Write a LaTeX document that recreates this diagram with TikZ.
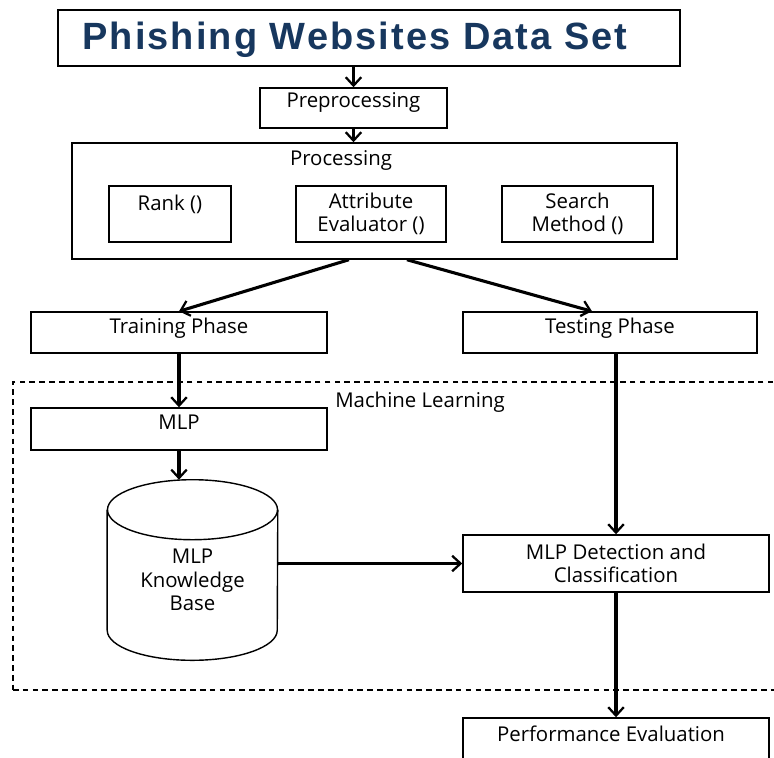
\documentclass[tikz,border=0pt]{standalone}
\usepackage{fontspec}
\setmainfont{Open Sans}
\newfontfamily\titlefont[LetterSpace=5.5]{Liberation Sans}
\usepackage{tikz}
\usetikzlibrary{shapes.geometric, arrows.meta, positioning}
\usepackage{xcolor}
\definecolor{titleblue}{HTML}{17375E}

\tikzset{
    box/.style={draw, rectangle, line width=1pt, inner sep=2pt, align=center},
    flow/.style={->, line width=2.2pt},
}

\begin{document}
\begin{tikzpicture}[x=0.025cm, y=-0.025cm, >={Straight Barb[length=6pt, width=11pt, line width=1.6pt]}, font=\fontsize{14.5}{16.5}\selectfont]
    \useasboundingbox (0,0) rectangle (774,757);
    % 数据集
    \node[box, minimum width=15.55cm, minimum height=1.4cm] (title) at (369,38) {};
    \node[text=titleblue, font=\titlefont\bfseries\fontsize{27}{30}\selectfont] (titletext) at (355,40) {Phishing Websites Data Set};
    \node[box, minimum width=4.675cm, minimum height=1cm, text depth=12pt] (pre) at (353.5,108) {Preprocessing};

    % 处理
    \node[box, minimum width=15.125cm, minimum height=2.9cm] (proc) at (374.5,201) {};
    \node (proctext) at (341,160) {Processing};
    \node[box, minimum width=3.05cm, minimum height=1.4cm] (rank) at (170,214) {};
    \node (ranktext) at (170,204) {Rank ()};
    \node[box, minimum width=3.75cm, minimum height=1.4cm] (attr) at (371,214) {Attribute\\Evaluator ()};
    \node[box, minimum width=3.775cm, minimum height=1.4cm] (search) at (577.5,214) {Search\\Method ()};

    % 训练与测试
    \node[box, minimum width=7.4cm, minimum height=1.025cm, text depth=10pt] (train) at (179,332.5) {Training Phase};
    \node[box, minimum width=7.35cm, minimum height=1.025cm, text depth=10pt] (test) at (610,332.5) {Testing Phase};

    % 机器学习
    \node[draw, dashed, line width=1pt, dash pattern=on 4pt off 3pt, minimum width=19.675cm, minimum height=7.7cm] (ml) at (406.5,536) {};
    \node (mltext) at (420,402) {Machine Learning};
    \node[box, minimum width=7.4cm, minimum height=1.05cm, text depth=10pt] (mlp) at (179,429) {MLP};

    % 知识库 (圆柱)
    \node[minimum width=4.25cm, minimum height=4.5cm, inner sep=0pt] (kb) at (192.5,570) {};
    \draw[line width=1pt] ([yshift=-0.75cm]kb.north) ellipse [x radius=2.125cm, y radius=0.75cm];
    \draw[line width=1pt] ([yshift=-0.75cm]kb.north west) -- ([yshift=0.75cm]kb.south west)
        arc[start angle=180, end angle=360, x radius=2.125cm, y radius=0.75cm] -- ([yshift=-0.75cm]kb.north east);
    \node[align=center] (kbtext) at (192.5,580) {MLP\\Knowledge\\Base};

    \node[box, minimum width=7.65cm, minimum height=1.425cm] (det) at (616,563.5) {MLP Detection and\\Classification};

    % 评估
    \node[box, minimum width=7.65cm, minimum height=1.5cm] (perf) at (616,748) {};
    \node (perftext) at (611,734) {Performance Evaluation};

    % 连线
    \draw[flow] (title.south -| pre.north) -- (pre.north);
    \draw[flow] (pre.south) -- (pre.south |- proc.north);
    \draw[flow] ([xshift=-0.64cm]proc.south) -- (train.north);
    \draw[flow] ([xshift=0.81cm]proc.south) -- ([xshift=-0.45cm]test.north);
    \draw[flow] (train.south) -- (mlp.north);
    \draw[flow] (mlp.south) -- (mlp.south |- kb.north);
    \draw[flow] (kb.east |- det.west) -- (det.west);
    \draw[flow] (det.north |- test.south) -- (det.north);
    \draw[flow] (det.south) -- (perf.north);
\end{tikzpicture}
\end{document}
